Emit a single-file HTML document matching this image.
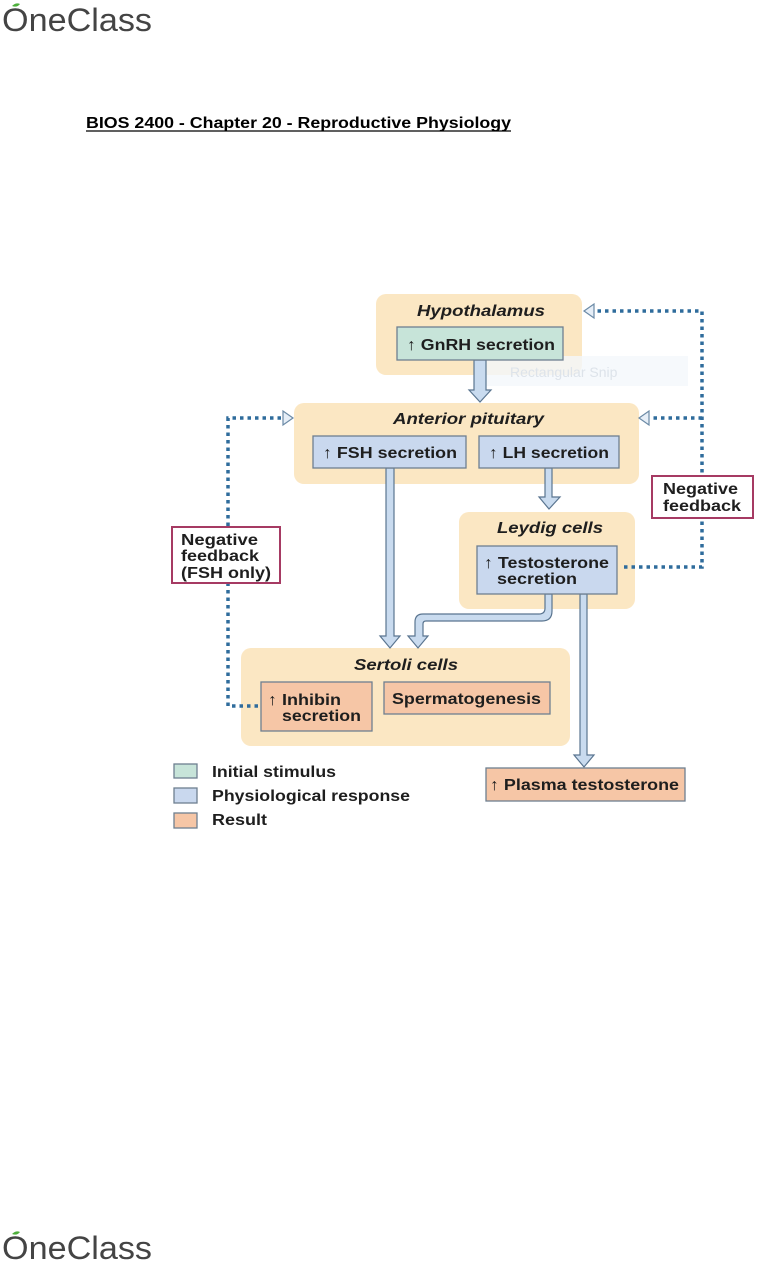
<!DOCTYPE html>
<html><head><meta charset="utf-8"><style>
html,body{margin:0;padding:0;background:#fff;width:784px;height:1263px;overflow:hidden}
svg{display:block}
text{font-family:"Liberation Sans",sans-serif;font-weight:bold;fill:#1e1e1e}
</style></head><body>
<svg width="784" height="1263" viewBox="0 0 784 1263" xmlns="http://www.w3.org/2000/svg">
<g>
<text x="2" y="31" textLength="150" lengthAdjust="spacingAndGlyphs" style="font-weight:normal;font-size:32px;fill:#444">OneClass</text>
<path d="M12 6 q4 -4 8 -2 q-3 4 -8 2z" fill="#4caf3a"/>
</g>
<g>
<text x="2" y="1259" textLength="150" lengthAdjust="spacingAndGlyphs" style="font-weight:normal;font-size:32px;fill:#444">OneClass</text>
<path d="M12 1234 q4 -4 8 -2 q-3 4 -8 2z" fill="#4caf3a"/>
</g>
<text x="86" y="128" textLength="425" lengthAdjust="spacingAndGlyphs" style="font-size:16px;fill:#000">BIOS 2400 - Chapter 20 - Reproductive Physiology</text>
<line x1="86" y1="131" x2="511" y2="131" stroke="#000" stroke-width="1.3"/>

<rect x="376" y="294" width="206" height="81" rx="10" fill="#fbe7c3"/>
<rect x="294" y="403" width="345" height="81" rx="10" fill="#fbe7c3"/>
<rect x="459" y="512" width="176" height="97" rx="10" fill="#fbe7c3"/>
<rect x="241" y="648" width="329" height="98" rx="10" fill="#fbe7c3"/>
<rect x="480" y="356" width="208" height="30" fill="#f4f7fb" opacity="0.8"/>
<text x="510" y="377" style="font-weight:normal;font-size:14px;fill:#dde3ea">Rectangular Snip</text>

<g style="font-size:16px" font-style="italic">
<text x="417" y="316" textLength="128" lengthAdjust="spacingAndGlyphs">Hypothalamus</text>
<text x="393" y="424" textLength="151" lengthAdjust="spacingAndGlyphs">Anterior pituitary</text>
<text x="497" y="533" textLength="106" lengthAdjust="spacingAndGlyphs">Leydig cells</text>
<text x="354" y="670" textLength="104" lengthAdjust="spacingAndGlyphs">Sertoli cells</text>
</g>

<g fill="#c9dbef" stroke="#5a7590" stroke-width="1.2">
<path d="M474 360 V390 H469 L480 402 L491 390 H486 V360Z"/>
<path d="M545 468 V497 H539 L549 509 L560 497 H552 V468Z"/>
<path d="M386 468 V636 H380 L390 648 L400 636 H394 V468Z"/>
<path d="M545 594 V608 Q545 614 539 614 H423 Q415 614 415 622 V636 H408 L418 648 L428 636 H423 V624 Q423 621 426 621 H542 Q552 621 552 611 V594Z"/>
<path d="M580 594 V755 H574 L584 767 L594 755 H587 V594Z"/>
</g>

<g stroke="#6e7f90" stroke-width="1.3">
<rect x="397" y="327" width="166" height="33" fill="#c7e4d9"/>
<rect x="313" y="436" width="153" height="32" fill="#c9d8ee"/>
<rect x="479" y="436" width="140" height="32" fill="#c9d8ee"/>
<rect x="477" y="546" width="140" height="48" fill="#c9d8ee"/>
<rect x="261" y="682" width="111" height="49" fill="#f6c6a6"/>
<rect x="384" y="682" width="166" height="32" fill="#f6c6a6"/>
<rect x="486" y="768" width="199" height="33" fill="#f6c6a6"/>
<rect x="174" y="764" width="23" height="14" fill="#c7e4d9"/>
<rect x="174" y="788" width="23" height="15" fill="#c9d8ee"/>
<rect x="174" y="813" width="23" height="15" fill="#f6c6a6"/>
</g>
<g style="font-size:16px" lengthAdjust="spacingAndGlyphs">
<text x="407" y="350" textLength="148" lengthAdjust="spacingAndGlyphs">↑ GnRH secretion</text>
<text x="323" y="458" textLength="134" lengthAdjust="spacingAndGlyphs">↑ FSH secretion</text>
<text x="489" y="458" textLength="120" lengthAdjust="spacingAndGlyphs">↑ LH secretion</text>
<text x="484" y="568" textLength="125" lengthAdjust="spacingAndGlyphs">↑ Testosterone</text>
<text x="497" y="584" textLength="80" lengthAdjust="spacingAndGlyphs">secretion</text>
<text x="268" y="705" textLength="73" lengthAdjust="spacingAndGlyphs">↑ Inhibin</text>
<text x="282" y="721" textLength="79" lengthAdjust="spacingAndGlyphs">secretion</text>
<text x="392" y="704" textLength="149" lengthAdjust="spacingAndGlyphs">Spermatogenesis</text>
<text x="490" y="790" textLength="189" lengthAdjust="spacingAndGlyphs">↑ Plasma testosterone</text>
<text x="212" y="777" textLength="124" lengthAdjust="spacingAndGlyphs">Initial stimulus</text>
<text x="212" y="801" textLength="198" lengthAdjust="spacingAndGlyphs">Physiological response</text>
<text x="212" y="825" textLength="55" lengthAdjust="spacingAndGlyphs">Result</text>
</g>

<g stroke="#2f6c9c" stroke-width="3.5" stroke-dasharray="3.5 4" fill="none">
<path d="M624 567 H702 V311 H594"/>
<path d="M702 418 H650"/>
<path d="M258 706 H228 V418 H284"/>
</g>
<g fill="#e6eef7" stroke="#6b8aa6" stroke-width="1.2">
<path d="M584 311 L594 304 L594 318Z"/>
<path d="M639 418 L649 411 L649 425Z"/>
<path d="M293 418 L283 411 L283 425Z"/>
</g>

<rect x="652" y="476" width="101" height="42" fill="#fff" stroke="#a63a63" stroke-width="2"/>
<text x="663" y="494" textLength="75" lengthAdjust="spacingAndGlyphs" style="font-size:16px">Negative</text>
<text x="663" y="511" textLength="78" lengthAdjust="spacingAndGlyphs" style="font-size:16px">feedback</text>
<rect x="172" y="527" width="108" height="56" fill="#fff" stroke="#a63a63" stroke-width="2"/>
<text x="181" y="545" textLength="77" lengthAdjust="spacingAndGlyphs" style="font-size:16px">Negative</text>
<text x="181" y="561" textLength="78" lengthAdjust="spacingAndGlyphs" style="font-size:16px">feedback</text>
<text x="181" y="578" textLength="90" lengthAdjust="spacingAndGlyphs" style="font-size:16px">(FSH only)</text>
</svg>
</body></html>
